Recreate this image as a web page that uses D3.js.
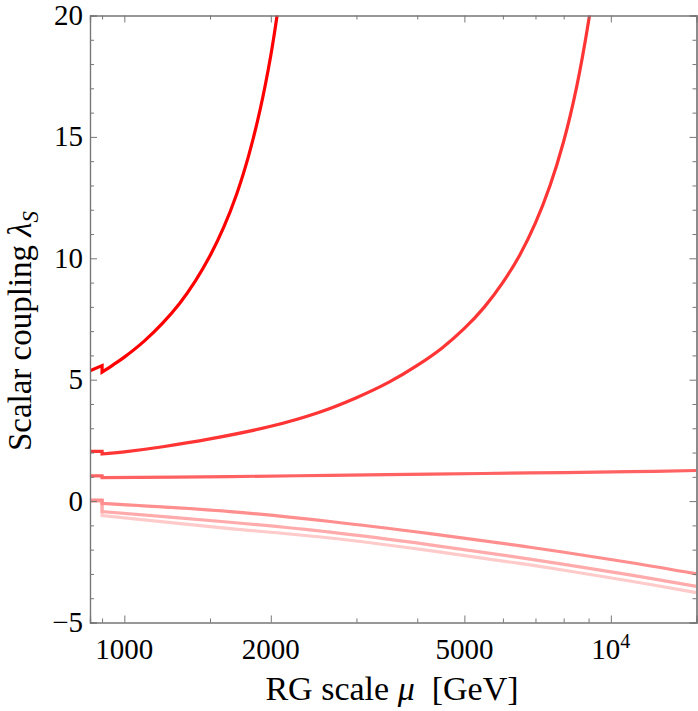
<!DOCTYPE html>
<html>
<head>
<meta charset="utf-8">
<script src="https://cdn.jsdelivr.net/npm/d3@7"></script>
<style>
  body { margin: 0; background: #fff; }
  svg text { font-family: "Liberation Serif", "Times New Roman", "DejaVu Serif", serif; fill: #000; }
</style>
</head>
<body>
<div id="chart"></div>
<script>
// threshold where the curves jump
const threshold = 900;

// values, mu in GeV
const preMu = [850, 900];
const pre1 = [5.37, 5.58];
const pre2 = [2.05, 2.05];
const pre3 = [1.04, 1.04];
const pre4 = [0.04, 0.04];
const pre5 = [0.02, 0.02];
const pre6 = [0.0, 0.0];

const mu1 = [900, 950, 1000, 1100, 1200, 1300, 1400, 1500, 1600, 1700, 1800, 1900, 2000, 2100];
const lam1 = [5.31, 5.62, 5.93, 6.60, 7.34, 8.15, 9.07, 10.10, 11.27, 12.62, 14.21, 16.09, 18.35, 21.14];

const mu2 = [900, 1000, 1200, 1500, 2000, 2500, 3000, 3500, 4000, 4500, 5000, 5500, 6000, 6500, 7000, 7500, 8000, 8500, 9000, 9300];
const lam2 = [1.94, 2.03, 2.24, 2.56, 3.08, 3.64, 4.26, 4.90, 5.59, 6.31, 7.11, 8.00, 9.01, 10.14, 11.46, 13.00, 14.82, 17.03, 19.76, 21.74];

const muLow = [900, 1650, 2650, 4250, 6820, 10940, 15000];
const lam3 = [0.97, 1.01, 1.06, 1.11, 1.16, 1.21, 1.26];
const lam4 = [-0.09, -0.43, -0.84, -1.34, -1.90, -2.53, -3.00];
const lam5 = [-0.43, -0.87, -1.28, -1.80, -2.39, -3.04, -3.51];
const lam6 = [-0.60, -1.13, -1.52, -2.04, -2.63, -3.29, -3.77];

const colors = ["#ff0000", "#ff3434", "#ff6262", "#ff8e8e", "#ffabab", "#ffcaca"];

const xMajor = [1000, 2000, 5000, 10000];
const xMajorLabels = ["1000", "2000", "5000", "10^4"];
const xMinor = [900, 1500, 3000, 4000, 6000, 7000, 8000, 9000];
const yMajor = [-5, 0, 5, 10, 15, 20];
const yMinor = [-4, -3, -2, -1, 1, 2, 3, 4, 6, 7, 8, 9, 11, 12, 13, 14, 16, 17, 18, 19];

const series = [
    { pre: pre6, mu: muLow, lam: lam6, color: colors[5] },
    { pre: pre5, mu: muLow, lam: lam5, color: colors[4] },
    { pre: pre4, mu: muLow, lam: lam4, color: colors[3] },
    { pre: pre3, mu: muLow, lam: lam3, color: colors[2] },
    { pre: pre2, mu: mu2, lam: lam2, color: colors[1] },
    { pre: pre1, mu: mu1, lam: lam1, color: colors[0] }
];

const dimension = {
    width: 698,
    height: 711,
    margin: { top: 15.5, left: 90, bottom: 88.5, right: 1.5 }
};
dimension.boundedWidth = dimension.width - dimension.margin.left - dimension.margin.right;
dimension.boundedHeight = dimension.height - dimension.margin.top - dimension.margin.bottom;

const svg = d3.select("#chart").append("svg")
    .attr("width", dimension.width)
    .attr("height", dimension.height)
    .attr("font-family", "Liberation Serif, Times New Roman, serif");

const bounded = svg.append("g")
    .attr("transform", `translate(${dimension.margin.left},${dimension.margin.top})`);

const xScaler = d3.scaleLog()
    .domain([850, 15000])
    .range([0, dimension.boundedWidth]);

const yScaler = d3.scaleLinear()
    .domain([-5, 20])
    .range([dimension.boundedHeight, 0]);

bounded.append("clipPath").attr("id", "clip")
    .append("rect")
    .attr("width", dimension.boundedWidth)
    .attr("height", dimension.boundedHeight);

const curves = bounded.append("g").attr("clip-path", "url(#clip)");

const straight = d3.line()
    .x(d => xScaler(d[0]))
    .y(d => yScaler(d[1]));

const smooth = d3.line()
    .x(d => xScaler(d[0]))
    .y(d => yScaler(d[1]))
    .curve(d3.curveCatmullRom.alpha(0.5));

series.forEach(s => {
    const prePts = preMu.map((m, i) => [m, s.pre[i]]);
    const postPts = s.mu.map((m, i) => [m, s.lam[i]]);
    // flat part, then the vertical jump at the threshold, then the running curve
    const d = straight(prePts.concat([[threshold, s.lam[0]]])) + smooth(postPts).replace(/^M/, "L");
    curves.append("path")
        .attr("d", d)
        .attr("fill", "none")
        .attr("stroke", s.color)
        .attr("stroke-width", 3.2)
        .attr("stroke-linejoin", "miter");
});

// frame with inward ticks on all four sides
const frameColor = "#777";
const axisBottom = d3.axisBottom(xScaler).tickValues(xMajor).tickSize(-7).tickFormat("");
const axisTop = d3.axisTop(xScaler).tickValues(xMajor).tickSize(-7).tickFormat("");
const axisBottomMinor = d3.axisBottom(xScaler).tickValues(xMinor).tickSize(-4).tickFormat("");
const axisTopMinor = d3.axisTop(xScaler).tickValues(xMinor).tickSize(-4).tickFormat("");
const axisLeft = d3.axisLeft(yScaler).tickValues(yMajor).tickSize(-7).tickFormat("");
const axisRight = d3.axisRight(yScaler).tickValues(yMajor).tickSize(-7).tickFormat("");
const axisLeftMinor = d3.axisLeft(yScaler).tickValues(yMinor).tickSize(-4).tickFormat("");
const axisRightMinor = d3.axisRight(yScaler).tickValues(yMinor).tickSize(-4).tickFormat("");

const bottomY = dimension.boundedHeight, rightX = dimension.boundedWidth;
[
    [axisBottom, `translate(0,${bottomY})`],
    [axisBottomMinor, `translate(0,${bottomY})`],
    [axisTop, "translate(0,0)"],
    [axisTopMinor, "translate(0,0)"],
    [axisLeft, "translate(0,0)"],
    [axisLeftMinor, "translate(0,0)"],
    [axisRight, `translate(${rightX},0)`],
    [axisRightMinor, `translate(${rightX},0)`]
].forEach(([ax, tr]) => {
    const g = bounded.append("g").attr("transform", tr).call(ax);
    g.select(".domain").attr("stroke", frameColor).attr("stroke-width", 1.2);
    g.selectAll(".tick line").attr("stroke", frameColor).attr("stroke-width", 1);
});

// tick labels
const xLabels = bounded.append("g").attr("font-size", 29);
xMajor.forEach((v, i) => {
    const t = xLabels.append("text")
        .attr("x", xScaler(v))
        .attr("y", bottomY + 36)
        .attr("text-anchor", "middle");
    const lab = xMajorLabels[i];
    if (lab.includes("^")) {
        const [base, sup] = lab.split("^");
        t.append("tspan").text(base);
        t.append("tspan").attr("dy", -11).attr("font-size", 20).text(sup);
    } else {
        t.text(lab);
    }
});

bounded.append("g").attr("font-size", 29)
    .selectAll("text").data(yMajor).join("text")
    .attr("x", -7)
    .attr("y", d => yScaler(d) + 9.5)
    .attr("text-anchor", "end")
    .text(d => d < 0 ? "\u2212" + Math.abs(d) : d);

// axis titles
const xTitle = svg.append("text")
    .attr("x", 392)
    .attr("y", 700)
    .attr("text-anchor", "middle")
    .attr("font-size", 34);
xTitle.append("tspan").text("RG scale ");
xTitle.append("tspan").attr("font-style", "italic").text("\u03bc");
xTitle.append("tspan").text("\u00a0 [GeV]");

const yTitle = svg.append("text")
    .attr("transform", "translate(31,331) rotate(-90)")
    .attr("text-anchor", "middle")
    .attr("font-size", 33);
yTitle.append("tspan").text("Scalar coupling ");
yTitle.append("tspan").attr("font-style", "italic").text("\u03bb");
yTitle.append("tspan").attr("font-style", "italic").attr("font-size", 23).attr("dy", 7).text("S");
</script>
</body>
</html>
